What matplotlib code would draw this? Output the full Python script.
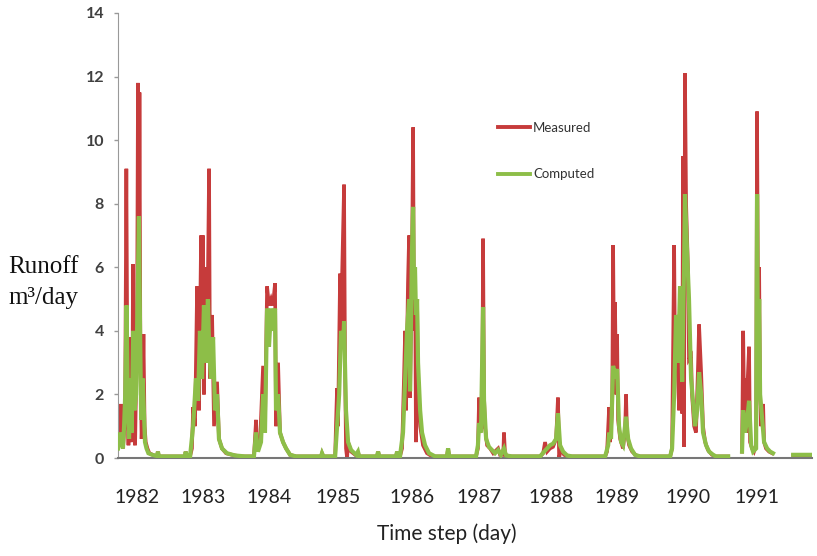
import numpy as np
import matplotlib
matplotlib.use("Agg")
import matplotlib.pyplot as plt

# ---------------- data (day index, runoff m3/day) ----------------
measured_day = [
    0, 8, 16, 21, 26, 37, 44, 50, 55, 63, 68, 74, 79, 84, 90, 100, 105, 110, 113, 118,
    124, 128, 134, 140, 146, 155, 165, 190, 205, 210, 215, 300, 352, 356, 362,
    379, 389, 395, 405, 416, 421, 426, 437, 442, 447, 452, 458, 468, 479, 484, 495,
    505, 521, 531, 547, 568, 600, 642,
    715, 726, 731, 747, 763, 773, 784, 794, 805, 815, 826, 831, 842, 852, 868, 884, 905, 936,
    1000, 1068, 1073, 1080, 1142, 1147, 1152, 1157, 1168, 1173, 1178, 1189, 1194, 1199, 1205,
    1210, 1226, 1252, 1258, 1262, 1268, 1362, 1368, 1374, 1462, 1468, 1474,
    1483, 1494, 1504, 1510, 1515, 1525, 1531, 1536, 1546, 1552, 1557, 1562, 1567, 1573,
    1578, 1589, 1604, 1625, 1652, 1730, 1736, 1742,
    1883, 1893, 1899, 1904, 1915, 1920, 1925, 1930, 1941, 1957, 1973, 1999, 2009, 2026, 2030,
    2036, 2062,
    2220, 2236, 2246, 2257, 2272, 2288, 2304, 2314, 2320, 2330, 2346, 2367,
    2562, 2572, 2583, 2588, 2599, 2604, 2609, 2614, 2620, 2625, 2630, 2641, 2646, 2656,
    2667, 2672, 2677, 2688, 2704, 2725, 2746,
    2904, 2914, 2925, 2930, 2940, 2951, 2961, 2967, 2972, 2977, 2982, 2988, 2998, 3003,
    3014, 3019, 3030, 3040, 3051, 3056, 3067, 3077, 3088, 3103, 3124, 3145, 3209,
    None,
    3282, 3288, 3293, 3298, 3304, 3309, 3319, 3324, 3335, 3345, 3356, 3361, 3366, 3372,
    3377, 3382, 3393, 3398, 3408, 3424, 3440,
    None,
    3551, 3650,
]
measured_val = [
    0.4, 0.6, 1.7, 0.5, 0.3, 1.2, 9.1, 2.0, 0.4, 3.8, 1.0, 0.5, 6.1, 0.8, 0.4, 4.0, 11.8, 5.0, 11.5, 3.0,
    0.6, 1.2, 3.9, 1.0, 0.5, 0.3, 0.15, 0.08, 0.06, 0.2, 0.05, 0.05, 0.05, 0.2, 0.05,
    0.05, 0.3, 1.6, 1.0, 5.4, 3.0, 1.5, 7.0, 5.0, 7.0, 2.0, 6.0, 3.0, 9.1, 2.5, 4.5,
    1.0, 2.4, 0.6, 0.3, 0.15, 0.1, 0.05,
    0.05, 1.2, 0.3, 0.5, 2.9, 1.0, 5.4, 4.8, 5.0, 4.8, 5.5, 1.0, 3.0, 0.8, 0.5, 0.3, 0.1, 0.05,
    0.05, 0.05, 0.15, 0.05, 0.05, 1.2, 2.2, 1.0, 5.8, 4.0, 5.6, 8.6, 3.0, 0.3, 0.0,
    0.5, 0.2, 0.08, 0.05, 0.2, 0.05, 0.05, 0.2, 0.05, 0.05, 0.2, 0.05,
    0.05, 0.3, 2.5, 4.0, 1.5, 5.5, 7.0, 1.9, 6.0, 10.4, 4.0, 6.0, 0.5, 5.0,
    2.0, 1.0, 0.4, 0.15, 0.05, 0.05, 0.3, 0.05,
    0.05, 0.3, 1.9, 0.8, 1.0, 6.9, 2.0, 1.0, 0.4, 0.3, 0.15, 0.3, 0.1, 0.1, 0.8,
    0.1, 0.05,
    0.05, 0.15, 0.5, 0.2, 0.3, 0.35, 0.6, 1.9, 0.0, 0.3, 0.1, 0.05,
    0.05, 0.2, 1.6, 0.5, 1.5, 6.7, 3.0, 4.9, 2.0, 3.9, 1.2, 0.6, 0.5, 0.3,
    0.9, 2.0, 0.8, 0.4, 0.2, 0.08, 0.05,
    0.05, 0.3, 6.7, 2.8, 3.5, 1.5, 4.1, 1.4, 9.5, 0.35, 12.1, 8.0, 5.9, 3.1,
    3.2, 2.0, 1.0, 0.8, 3.0, 4.2, 2.7, 1.0, 0.5, 0.25, 0.1, 0.05, 0.05,
    None,
    0.2, 4.0, 1.5, 2.5, 0.8, 2.1, 3.5, 0.5, 0.3, 0.2, 0.4, 10.9, 5.0, 6.0,
    2.0, 1.0, 1.7, 0.5, 0.3, 0.2, 0.15,
    None,
    0.08, 0.08,
]

computed_day = [
    0, 10, 18, 26, 32, 38, 45, 52, 58, 65, 72, 80, 87, 95, 103, 110, 116, 122, 130, 136,
    142, 150, 160, 180, 205, 210, 215, 300, 352, 356, 362,
    379, 395, 410, 421, 431, 442, 452, 463, 473, 479, 489, 500, 510, 521, 531, 547, 573,
    615, 668,
    715, 726, 736, 752, 763, 773, 784, 794, 805, 815, 826, 831, 842, 852, 868, 884, 905, 936,
    1000, 1068, 1073, 1080, 1142, 1152, 1163, 1173, 1184, 1189, 1199, 1210, 1226, 1252, 1262,
    1268, 1283, 1362, 1368, 1374, 1462, 1468, 1474,
    1483, 1499, 1510, 1520, 1531, 1536, 1546, 1552, 1557, 1562, 1567, 1573, 1578, 1589,
    1599, 1615, 1636, 1668, 1730, 1736, 1742,
    1883, 1893, 1899, 1909, 1920, 1925, 1936, 1951, 1967, 1983, 1999, 2014, 2030, 2041,
    2072,
    2220, 2241, 2257, 2272, 2288, 2304, 2314, 2325, 2341, 2362, 2388,
    2562, 2578, 2583, 2593, 2604, 2614, 2625, 2635, 2646, 2656, 2672, 2683, 2698, 2719,
    2746,
    2904, 2914, 2925, 2935, 2946, 2956, 2967, 2977, 2982, 2993, 3003, 3014, 3024, 3035,
    3046, 3056, 3067, 3077, 3093, 3109, 3130, 3145, 3209,
    None,
    3282, 3288, 3298, 3309, 3319, 3330, 3340, 3356, 3361, 3366, 3372, 3377, 3388, 3398,
    3414, 3430, 3445,
    None,
    3551, 3650,
]
computed_val = [
    0.3, 0.8, 0.5, 0.3, 1.0, 2.0, 4.8, 1.5, 0.6, 2.5, 0.8, 4.0, 1.5, 2.0, 5.0, 7.6, 4.0, 1.2, 2.5, 1.5,
    0.5, 0.3, 0.15, 0.1, 0.06, 0.2, 0.05, 0.05, 0.05, 0.2, 0.05,
    0.05, 1.0, 2.5, 1.8, 4.0, 2.5, 4.8, 3.0, 5.0, 3.5, 2.5, 3.8, 1.5, 2.0, 0.6, 0.3, 0.15,
    0.08, 0.05,
    0.05, 0.8, 0.2, 0.5, 2.0, 0.8, 4.7, 3.5, 4.7, 4.0, 4.7, 1.5, 2.0, 0.8, 0.5, 0.3, 0.1, 0.05,
    0.05, 0.05, 0.15, 0.05, 0.05, 1.0, 2.0, 4.0, 3.5, 4.3, 1.5, 0.5, 0.25, 0.1, 0.2,
    0.05, 0.05, 0.05, 0.2, 0.05, 0.05, 0.2, 0.05,
    0.05, 0.8, 2.5, 4.0, 5.0, 2.1, 6.5, 7.9, 5.0, 6.0, 4.5, 5.0, 3.0, 1.5,
    0.8, 0.4, 0.15, 0.05, 0.05, 0.3, 0.05,
    0.05, 0.4, 1.1, 0.8, 4.75, 1.8, 0.6, 0.35, 0.25, 0.15, 0.25, 0.1, 0.3, 0.08,
    0.05,
    0.05, 0.2, 0.3, 0.4, 0.45, 0.6, 1.4, 0.4, 0.2, 0.08, 0.05,
    0.05, 0.4, 0.8, 0.6, 2.9, 2.5, 2.8, 1.0, 0.5, 0.4, 1.3, 0.6, 0.3, 0.1,
    0.05,
    0.05, 0.3, 2.0, 4.5, 3.0, 5.4, 2.4, 6.0, 8.3, 6.5, 5.0, 2.5, 1.8, 1.0,
    1.5, 2.7, 2.0, 0.8, 0.4, 0.2, 0.1, 0.05, 0.05,
    None,
    0.2, 1.5, 0.8, 1.2, 1.8, 0.4, 0.2, 0.3, 8.3, 3.0, 5.0, 2.0, 1.2, 0.5,
    0.3, 0.2, 0.15,
    None,
    0.1, 0.1,
]

year_labels = ["1982", "1983", "1984", "1985", "1986", "1987", "1988", "1989", "1990", "1991"]
year_label_day = [100, 447, 794, 1157, 1546, 1899, 2277, 2625, 2998, 3361]
y_ticks = [0, 2, 4, 6, 8, 10, 12, 14]

# ---------------- style ----------------
sans = ["Lato", "DejaVu Sans"]
serif = "Liberation Serif"


def arr(v):
    return np.array([np.nan if x is None else x for x in v], dtype=float)


W, H = 817, 556
fig = plt.figure(figsize=(W / 100, H / 100), dpi=100)
ax = fig.add_axes([118 / W, 1 - 458 / H, (812 - 118) / W, (458 - 13) / H])

red = "#C63B3B"
green = "#8DBE48"
ax.plot(arr(measured_day), arr(measured_val), color=red, lw=2.6, solid_joinstyle="miter",
        label="Measured", zorder=2)
ax.plot(arr(computed_day), arr(computed_val), color=green, lw=3.0, solid_joinstyle="miter",
        label="Computed", zorder=3)

ax.set_xlim(0, 3650)
ax.set_ylim(0, 14)
ax.set_yticks(y_ticks)
ax.set_yticklabels([str(t) for t in y_ticks], family=sans,
                   fontsize=11.5, fontweight="bold", color="#404040")
ax.tick_params(axis="y", length=3, width=1, color="#999999", pad=7)
ax.set_xticks(year_label_day)
ax.set_xticklabels(year_labels, family=sans, fontsize=14, color="#222222")
ax.tick_params(axis="x", length=0, pad=22)

for s in ["top", "right"]:
    ax.spines[s].set_visible(False)
ax.spines["left"].set_color("#999999")
ax.spines["bottom"].set_color("#777777")
ax.spines["bottom"].set_linewidth(1.5)

leg = ax.legend(loc="center left", bbox_to_anchor=(498 / W, 1 - 151 / H),
                bbox_transform=fig.transFigure, frameon=False, borderpad=0, borderaxespad=0,
                handlelength=2.4, handletextpad=0.25, labelspacing=2.6,
                prop={"family": sans, "size": 9.5})
for t in leg.get_texts():
    t.set_color("#333333")
for l in leg.get_lines():
    l.set_linewidth(2.8)

fig.text(447 / W, 1 - 540 / H, "Time step (day)", ha="center", va="baseline",
         family=sans, fontsize=15, color="#222222")
fig.text(8 / W, 1 - 273 / H, "Runoff", ha="left", va="baseline", family=serif,
         fontsize=18, color="#111111")
fig.text(8 / W, 1 - 304 / H, "m³/day", ha="left", va="baseline", family=serif,
         fontsize=18, color="#111111")

fig.savefig("out.png", dpi=100)
